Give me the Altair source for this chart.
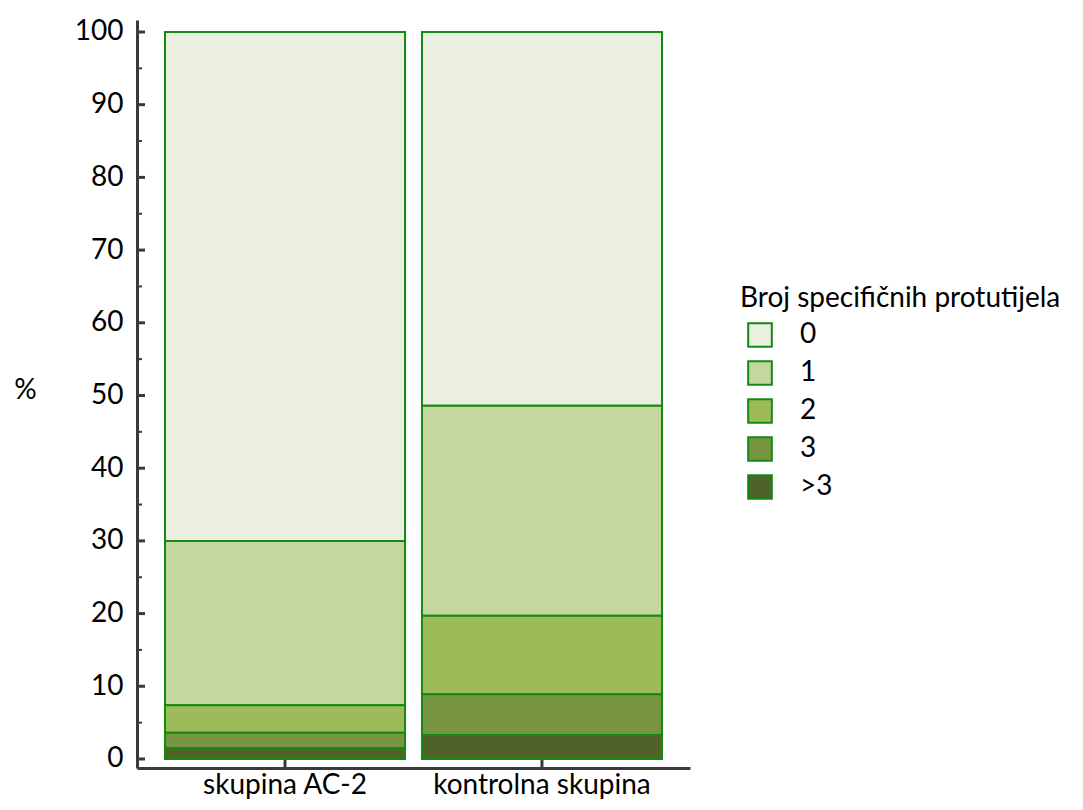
import altair as alt
import pandas as pd

groups = ["skupina AC-2", "kontrolna skupina"]
categories = ["0", "1", "2", "3", ">3"]
ac2_values = [70.0, 22.6, 3.8, 2.1, 1.5]
ctrl_values = [51.4, 28.9, 10.8, 5.6, 3.3]
colors = ["#EBEFDF", "#C5D79F", "#9DBB59", "#779541", "#4F6228"]
y_major = [0, 10, 20, 30, 40, 50, 60, 70, 80, 90, 100]
y_minor = [5, 15, 25, 35, 45, 55, 65, 75, 85, 95]

rows = []
for g, vals in zip(groups, [ac2_values, ctrl_values]):
    for i, (c, v) in enumerate(zip(categories, vals)):
        rows.append({"group": g, "cat": c, "value": v, "order": len(categories) - i})
df = pd.DataFrame(rows)

W, H = 553, 748
AXIS = "#3A3A3A"
STROKE = "#148A14"
FS = 28

xscale = alt.Scale(domain=groups, paddingInner=0.066, paddingOuter=0.109)
yscale = alt.Scale(domain=[-1.24, 101.65], nice=False, zero=False)

bars = alt.Chart(df).mark_bar(stroke=STROKE, strokeWidth=2).encode(
    x=alt.X("group:N", scale=xscale, sort=groups,
            axis=alt.Axis(title=None, labelAngle=0, ticks=False, labelPadding=3,
                          labelFontSize=FS, labelColor="#000000", labelLimit=0,
                          domainColor=AXIS, domainWidth=3)),
    y=alt.Y("value:Q", stack="zero", scale=yscale,
            axis=alt.Axis(values=y_major, ticks=False, tickSize=0, grid=False,
                          labelPadding=14, labelFontSize=FS, labelColor="#000000",
                          domainColor=AXIS, domainWidth=3,
                          title="%", titleAngle=0, titleFontSize=FS, titleFontWeight="normal",
                          titleX=-112, titleY=370, titleAlign="center", titleBaseline="middle")),
    color=alt.Color("cat:N", scale=alt.Scale(domain=categories, range=colors),
                    legend=alt.Legend(title="Broj specifičnih protutijela", orient="none",
                                      legendX=603, legendY=265, symbolType="square",
                                      symbolSize=560, symbolStrokeColor=STROKE,
                                      symbolStrokeWidth=2, symbolOffset=6, labelOffset=26,
                                      labelFontSize=FS, titleFontSize=FS, titleFontWeight="normal",
                                      titleColor="#000000", labelColor="#000000",
                                      titleLimit=0, labelLimit=0,
                                      rowPadding=6, titlePadding=8)),
    order=alt.Order("order:Q", sort="ascending"),
)

major_df = pd.DataFrame({"v": y_major})
minor_df = pd.DataFrame({"v": y_minor})
major_ticks = alt.Chart(major_df).mark_rule(color=AXIS, strokeWidth=3).encode(
    y=alt.Y("v:Q", scale=yscale), x=alt.value(0), x2=alt.value(8))
minor_ticks = alt.Chart(minor_df).mark_rule(color=AXIS, strokeWidth=2).encode(
    y=alt.Y("v:Q", scale=yscale), x=alt.value(0), x2=alt.value(5))

xt_df = pd.DataFrame({"group": groups})
x_ticks = alt.Chart(xt_df).mark_rule(color=AXIS, strokeWidth=3).encode(
    x=alt.X("group:N", scale=xscale, sort=groups, bandPosition=0.5),
    y=alt.value(H - 8), y2=alt.value(H))

chart = alt.layer(bars, major_ticks, minor_ticks, x_ticks).properties(
    width=W, height=H,
    autosize=alt.AutoSizeParams(type="none"),
    padding={"left": 129, "top": 12, "right": 380, "bottom": 40},
).configure(font="Lato").configure_view(stroke=None)

chart.save("out.html", embed_options={"renderer": "svg", "actions": False})
